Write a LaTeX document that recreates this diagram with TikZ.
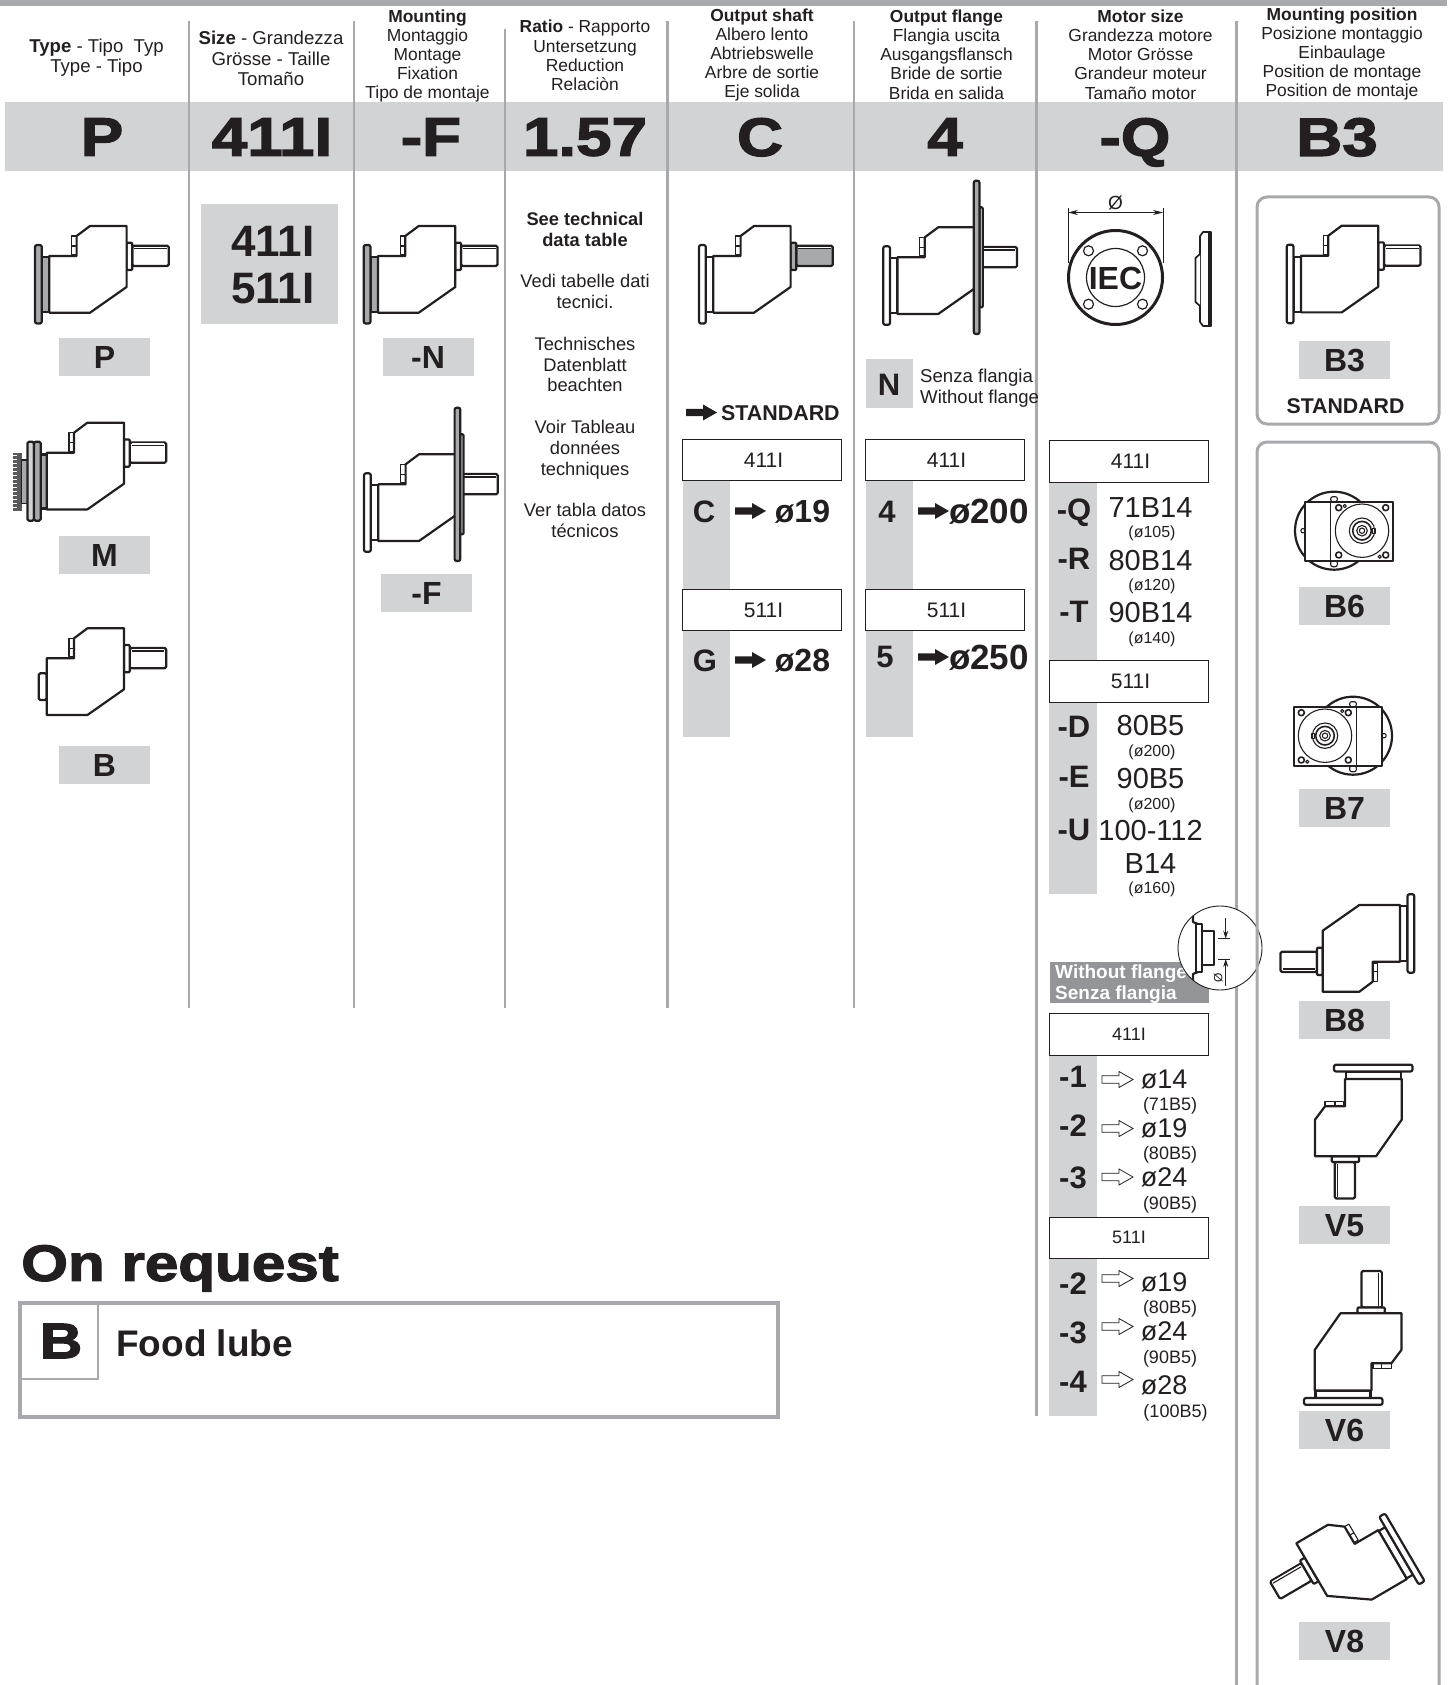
\documentclass[tikz,border=0pt]{standalone}
\usepackage{fontspec}
\setmainfont{Liberation Sans}
\newfontfamily\heavyfont[FakeBold=2.5,FakeStretch=1.18]{Liberation Sans Bold}
\usetikzlibrary{arrows.meta,positioning,calc}
\definecolor{PanelGrey}{HTML}{D1D3D4}
\definecolor{RuleGrey}{HTML}{A7A9AC}
\definecolor{TitleGrey}{HTML}{939598}
\definecolor{PlateDark}{HTML}{58595B}
\definecolor{InkBlack}{HTML}{231F20}
\newcommand{\fsz}[1]{\fontsize{#1}{#1}\selectfont}
\newcommand{\sizetext}[1]{\hspace*{3pt}\raisebox{-1.8pt}{#1}}

% Gearbox side view, origin where flange side meets the notch side
\newcommand{\gearbody}[1][white]{%
  \draw[gearline,fill=#1,rounded corners=1.5pt] (83,-10.3) rectangle (119.5,10);
  \fill[white] (85,-9.3) rectangle (117.5,-7.3);
  \draw[gearthin] (85,-7.3) -- (117.5,-7.3);
  \draw[gearline,fill=#1,rounded corners=1pt] (77.3,-13.3) rectangle (83,14);
  \draw[gearline,fill=white] (0,0) -- (27.3,0) -- (27.3,-20) -- (40.7,-30) -- (77.3,-30)
    -- (77.3,31) -- (40.7,56.7) -- (0,56.7) -- cycle;
  \draw[gearthin] (27.3,-1.5) -- (22.3,-1.5) -- (22.3,-20) -- (27.3,-20) (22.3,-10) -- (27.3,-10);
}
\newcommand{\gearflange}[1][white]{%
  \draw[gearline,fill=#1] (-7.5,1) rectangle (0,56);
  \draw[gearline,fill=#1,rounded corners=2pt] (-14.3,-11) rectangle (-7.5,67.5);
}
\newcommand{\gearplate}{%
  \draw[gearline,fill=white,rounded corners=1pt] (82,-50) rectangle (85.2,50);
  \draw[gearline,fill=RuleGrey,rounded corners=2pt] (76.3,-76.6) rectangle (82,76.7);
}
% Motor end view, origin on the output axis
\newcommand{\gearend}{%
  \draw[gearline] (-28,0) circle (39);
  \draw[gearthin,fill=white] (-59,0) circle (2.2);
  \draw[gearthin,rounded corners=2pt] (-31.3,-34) rectangle (-24.7,-29);
  \draw[gearthin,rounded corners=2pt] (-24.7,30) rectangle (-31.3,36);
  \draw[gearline,fill=white] (-57.3,-29) rectangle (31,30.3);
  \draw[gearthin] (-31.4,-29) -- (-31.4,30.3);
  \draw[gearthin] (0,0) circle (26.7);
  \draw[gearthin] (0,0) circle (12.7);
  \draw[gearline,line width=1.6pt] (0,0) circle (9.3);
  \draw[gearthin] (0,0) circle (5.3);
  \draw[gearthin] (0,0) circle (2.7);
  \draw[gearthin] (10.5,-2.5) rectangle (13,2.5);
  \draw[gearline,line width=1.6pt] (-23.3,-23) circle (3);
  \draw[gearline,line width=1.6pt] (23.7,-23) circle (3);
  \draw[gearline,line width=1.6pt] (-23.3,24.3) circle (3);
  \draw[gearline,line width=1.6pt] (23.7,24.3) circle (3);
  \draw[gearthin] (-17.3,-24.7) circle (1.6);
  \draw[gearthin] (17.7,26) circle (1.6);
}
\newcommand{\blockarrow}[2][solidarrow]{%
  \path[#1,shift={(#2)}] (0,-3.7) -- (17,-3.7) -- (17,-8) -- (31,0) -- (17,8) -- (17,3.7) -- (0,3.7) -- cycle;
}

\begin{document}
\begin{tikzpicture}[x=1pt,y=-1pt,
    gearline/.style={draw=InkBlack,line width=2.2pt,line join=round},
    gearthin/.style={draw=InkBlack,line width=1.1pt,line join=round},
    solidarrow/.style={fill=InkBlack},
    openarrow/.style={draw=InkBlack,fill=white,line width=0.8pt},
    colrule/.style={draw=RuleGrey,line width=2.6pt},
    hdr/.style={inner sep=0pt,align=center,text=InkBlack,
      font=\fontsize{17.4}{19.2}\selectfont},
    hdrbig/.style={inner sep=0pt,align=center,text=InkBlack,
      font=\fontsize{18.6}{20.2}\selectfont},
    codeband/.style={inner sep=0pt,text depth=0pt,text=InkBlack,
      font=\heavyfont\fontsize{54}{54}\selectfont},
    tagbox/.style={inner sep=0pt,text depth=0pt,text=InkBlack,fill=PanelGrey,
      minimum width=91pt,minimum height=38pt,font=\bfseries\fsz{32}},
    sizebox/.style={draw=InkBlack,line width=1pt,inner sep=0pt,fill=white,text=InkBlack,
      minimum width=158.5pt,minimum height=41pt,font=\fsz{21}},
    bigcode/.style={inner sep=0pt,text depth=0pt,text=InkBlack,font=\bfseries\fsz{31}},
    bigval/.style={inner sep=0pt,text depth=0pt,text=InkBlack,font=\bfseries\fsz{32}},
    motorval/.style={inner sep=0pt,text depth=0pt,text=InkBlack,font=\fsz{29}},
    boreval/.style={inner sep=0pt,text depth=0pt,text=InkBlack,font=\fsz{27}},
    note/.style={inner sep=0pt,text depth=0pt,text=InkBlack,font=\fsz{16}},
    boreNote/.style={inner sep=0pt,text depth=0pt,text=InkBlack,font=\fsz{18}},
    frameBox/.style={draw=RuleGrey,line width=3pt,rounded corners=10pt}
  ]
  \useasboundingbox (0,0) rectangle (1447,1685);

  % Bands
  \fill[RuleGrey] (0,0) rectangle (1447,6);
  \fill[PanelGrey] (5,102) rectangle (1443,171);

  % Column rules
  \draw[colrule] (189,21) -- (189,1008);
  \draw[colrule] (354,21) -- (354,1008);
  \draw[colrule] (505,29) -- (505,1008);
  \draw[colrule] (667.5,21) -- (667.5,1008);
  \draw[colrule] (854,21) -- (854,1008);
  \draw[colrule] (1036.5,21) -- (1036.5,1416);
  \draw[colrule] (1236.5,21) -- (1236.5,1685);

  % Column headings
  \node[hdrbig] (hdrtype) at (96.5,58) {\textbf{Type} - Tipo\ \ Typ\\Type - Tipo};
  \node[hdrbig] (hdrsize) at (271,58.5) {\textbf{Size} - Grandezza\\Grösse - Taille\\Tomaño};
  \node[hdr] (hdrmount) at (427.5,56) {\textbf{Mounting}\\Montaggio\\Montage\\Fixation\\Tipo de montaje};
  \node[hdr] (hdrratio) at (585,55.5) {\textbf{Ratio} - Rapporto\\Untersetzung\\Reduction\\Relaciòn};
  \node[hdr] (hdrshaft) at (762,55) {\textbf{Output shaft}\\Albero lento\\Abtriebswelle\\Arbre de sortie\\Eje solida};
  \node[hdr] (hdrflange) at (946.5,54.5) {\textbf{Output flange}\\Flangia uscita\\Ausgangsflansch\\Bride de sortie\\Brida en salida};
  \node[hdr] (hdrmotor) at (1140.5,54.5) {\textbf{Motor size}\\Grandezza motore\\Motor Grösse\\Grandeur moteur\\Tamaño motor};
  \node[hdr] (hdrpos) at (1342,54) {\textbf{Mounting position}\\Posizione montaggio\\Einbaulage\\Position de montage\\Position de montaje};

  % Order code
  \node[codeband] (codetype) at (102,137) {P};
  \node[codeband] (codesize) at (272,137) {411I};
  \node[codeband] (codemount) at (431,137) {-F};
  \node[codeband] (coderatio) at (585,137) {1.57};
  \node[codeband] (codeshaft) at (760,137) {C};
  \node[codeband] (codeflange) at (945,137) {4};
  \node[codeband] (codemotor) at (1135,137) {-Q};
  \node[codeband] (codepos) at (1337,137) {B3};

  % Type
  \begin{scope}[shift={(49.3,256)}]
    \gearflange[RuleGrey]
    \gearbody
  \end{scope}
  \node[tagbox] (tagp) at (104.5,357) {P};
  \begin{scope}[shift={(46.7,452.7)}]
    \fill[PlateDark] (-33.3,0.7) rectangle (-25,58);
    \draw[white,line width=5pt,dash pattern=on 1pt off 3pt] (-32,2) -- (-32,58);
    \draw[gearthin,fill=RuleGrey] (-25,7.3) rectangle (-19.3,50.7);
    \draw[gearline,fill=PanelGrey,rounded corners=1.5pt] (-19.3,-11) rectangle (-12.7,68);
    \draw[gearline,fill=RuleGrey,rounded corners=1.5pt] (-12.7,-11) rectangle (-6,68);
    \draw[gearline,fill=RuleGrey] (-6,1.7) rectangle (0,55.7);
    \gearbody
  \end{scope}
  \node[tagbox] (tagm) at (104.5,555) {M};
  \begin{scope}[shift={(46.7,658.3)}]
    \draw[gearline,fill=white,rounded corners=1.5pt] (-8,15) rectangle (0,41.7);
    \gearbody
  \end{scope}
  \node[tagbox] (tagb) at (104.5,765) {B};

  % Size
  \fill[PanelGrey] (201,204) rectangle (338,324);
  \node[inner sep=0pt,text depth=0pt,text=InkBlack,font=\bfseries\fsz{44}] (size411) at (273,241) {411I};
  \node[inner sep=0pt,text depth=0pt,text=InkBlack,font=\bfseries\fsz{44}] (size511) at (273,288) {511I};

  % Mounting
  \begin{scope}[shift={(378,256)}]
    \gearflange[RuleGrey]
    \gearbody
  \end{scope}
  \node[tagbox] (tagn) at (428,357) {-N};
  \begin{scope}[shift={(378.3,484.3)}]
    \gearflange
    \gearbody
    \gearplate
  \end{scope}
  \node[tagbox] (tagf) at (426.5,593) {-F};

  % Ratio
  \node[inner sep=0pt,align=center,text=InkBlack,font=\fontsize{18.3}{20.8}\selectfont] (rationote) at (585,375)
    {\textbf{See technical}\\\textbf{data table}\\[20.8pt]
     Vedi tabelle dati\\tecnici.\\[20.8pt]
     Technisches\\Datenblatt\\beachten\\[20.8pt]
     Voir Tableau\\données\\techniques\\[20.8pt]
     Ver tabla datos\\técnicos};

  % Output shaft
  \begin{scope}[shift={(713.3,256)}]
    \gearflange
    \gearbody[RuleGrey]
  \end{scope}
  \blockarrow{686,412.5}
  \node[inner sep=0pt,text depth=0pt,anchor=west,text=InkBlack,font=\bfseries\fsz{21.4}] (stdshaft) at (721,413) {STANDARD};
  \fill[PanelGrey] (682.5,481) rectangle (730,737);
  \node[sizebox] (shaft411) at (762,460) {\sizetext{411I}};
  \node[sizebox] (shaft511) at (762,610) {\sizetext{511I}};
  \node[bigcode] (shaftc) at (704,512) {C};
  \blockarrow{735,511}
  \node[bigval] (shaft19) at (802.5,511) {ø19};
  \node[bigcode] (shaftg) at (705,661) {G};
  \blockarrow{735,660}
  \node[bigval] (shaft28) at (802.5,660) {ø28};

  % Output flange
  \begin{scope}[shift={(897.5,257.3)}]
    \gearflange
    \gearbody
    \gearplate
  \end{scope}
  \fill[PanelGrey] (865.5,359) rectangle (913,408);
  \node[bigcode] (flangen) at (889,385) {N};
  \node[inner sep=0pt,anchor=west,align=left,text=InkBlack,font=\fontsize{18.6}{20.5}\selectfont] (flangenote) at (920,388) {Senza flangia\\Without flange};
  \fill[PanelGrey] (865.5,481) rectangle (913,737);
  \node[sizebox] (flange411) at (945,460) {\sizetext{411I}};
  \node[sizebox] (flange511) at (945,610) {\sizetext{511I}};
  \node[bigcode] (flange4) at (887,512) {4};
  \blockarrow{918,511}
  \node[bigval,font=\bfseries\fsz{35}] (flange200) at (989,511) {ø200};
  \node[bigcode] (flange5) at (885,657) {5};
  \blockarrow{918,657}
  \node[bigval,font=\bfseries\fsz{35}] (flange250) at (989,657) {ø250};

  % IEC flange
  \draw[InkBlack,line width=3pt] (1115.5,277.5) circle (47);
  \draw[InkBlack,line width=1.2pt] (1115.5,277.5) circle (29);
  \draw[InkBlack,line width=1.2pt] (1088.5,250.8) circle (5);
  \draw[InkBlack,line width=1.2pt] (1142.5,250.8) circle (5);
  \draw[InkBlack,line width=1.2pt] (1088.5,304.2) circle (5);
  \draw[InkBlack,line width=1.2pt] (1142.5,304.2) circle (5);
  \node[inner sep=0pt,text depth=0pt,text=InkBlack,font=\bfseries\fsz{32}] (ieclabel) at (1115.5,278) {IEC};
  \coordinate (iecl) at (1068,212.5);
  \coordinate (iecr) at (1163,212.5);
  \draw[InkBlack,line width=0.8pt] (1068,208) -- (1068,263) (1163,208) -- (1163,263);
  \draw[InkBlack,line width=0.8pt,{Stealth[length=10pt,width=5pt]}-{Stealth[length=10pt,width=5pt]}] (iecl) -- (iecr);
  \node[inner sep=0pt,text=InkBlack,font=\fsz{19}] (iecdia) at (1115.5,203) {Ø};
  \draw[InkBlack,line width=1.7pt,fill=white,line join=round] (1203,232) -- (1211,232) -- (1211,326) -- (1203,326) -- (1200,322) -- (1200,236) -- cycle;
  \draw[InkBlack,line width=1.7pt,fill=white,line join=round] (1200,254) -- (1195.5,258) -- (1195.5,302) -- (1200,306);
  \draw[InkBlack,line width=3pt] (1209.5,232) -- (1209.5,326);

  % Motor size
  \fill[PanelGrey] (1049,483) rectangle (1097,894);
  \node[sizebox,minimum width=159.5pt,minimum height=42pt] (motor411) at (1129,461.5) {\sizetext{411I}};
  \node[sizebox,minimum width=159.5pt,minimum height=42pt] (motor511) at (1129,681) {\sizetext{511I}};
  \node[bigcode] (motorq) at (1074,510) {-Q};
  \node[motorval] (motor71) at (1150.5,508) {71B14};
  \node[note] (motor105) at (1152,532) {(ø105)};
  \node[bigcode] (motorr) at (1074,559) {-R};
  \node[motorval] (motor80) at (1150.5,560) {80B14};
  \node[note] (motor120) at (1152,585) {(ø120)};
  \node[bigcode] (motort) at (1074,612) {-T};
  \node[motorval] (motor90) at (1150.5,612) {90B14};
  \node[note] (motor140) at (1152,638) {(ø140)};
  \node[bigcode] (motord) at (1074,727) {-D};
  \node[motorval] (motorb80) at (1150.5,725) {80B5};
  \node[note] (motorb200) at (1152,751) {(ø200)};
  \node[bigcode] (motore) at (1074,777) {-E};
  \node[motorval] (motorb90) at (1150.5,778) {90B5};
  \node[note] (motorc200) at (1152,804) {(ø200)};
  \node[bigcode] (motoru) at (1074,830) {-U};
  \node[motorval] (motor100) at (1150.5,830) {100-112};
  \node[motorval] (motorb14) at (1150.5,864) {B14};
  \node[note] (motor160) at (1152,888) {(ø160)};

  % Without flange
  \fill[TitleGrey] (1049.5,961.5) rectangle (1208.5,1003);
  \node[inner sep=0pt,anchor=west,align=left,text=white,font=\bfseries\fontsize{19}{21}\selectfont] (noflange) at (1055,984) {Without flange\\Senza flangia};
  \begin{scope}[shift={(1220,948)}]
    \begin{scope}
      \clip (0,0) circle (42);
      \fill[white] (0,0) circle (42);
      \draw[gearline] (-27,-40) -- (-27,-26) -- (-22,-24);
      \draw[gearline] (-27,40) -- (-27,26) -- (-22,24);
      \draw[gearline] (-24.3,-24) rectangle (-18.3,24);
      \draw[gearline] (-18.3,-16.7) rectangle (-6,17.3);
      \draw[gearthin,line width=0.8pt] (-2,-9.3) -- (10,-9.3) (-2,11) -- (10,11);
      \draw[gearthin,line width=0.8pt,-{Stealth[length=8pt,width=5pt]}] (5.7,-30) -- (5.7,-9.3);
      \draw[gearthin,line width=0.8pt,-{Stealth[length=8pt,width=5pt]}] (5.7,38) -- (5.7,11);
      \node[inner sep=0pt,rotate=90,text=InkBlack,font=\fsz{12}] (detaildia) at (-1.7,30) {Ø};
    \end{scope}
    \draw[InkBlack,line width=0.9pt] (0,0) circle (42);
  \end{scope}

  % Bore sizes
  \fill[PanelGrey] (1049,1055) rectangle (1097,1416);
  \node[sizebox,minimum width=159.5pt,minimum height=42pt,font=\fsz{18}] (bore411) at (1129,1034) {411I};
  \node[sizebox,minimum width=159.5pt,minimum height=41pt,font=\fsz{18}] (bore511) at (1129,1237.5) {511I};
  \node[bigcode] (borea) at (1073,1077) {-1};
  \blockarrow[openarrow]{1102,1079.5}
  \node[boreval] (bore14) at (1164,1079) {ø14};
  \node[boreNote] (note71) at (1170,1104) {(71B5)};
  \node[bigcode] (boreb) at (1073,1126) {-2};
  \blockarrow[openarrow]{1102,1128.5}
  \node[boreval] (bore19) at (1164,1128) {ø19};
  \node[boreNote] (note80) at (1170,1153) {(80B5)};
  \node[bigcode] (borec) at (1073,1178) {-3};
  \blockarrow[openarrow]{1102,1177}
  \node[boreval] (bore24) at (1164,1177) {ø24};
  \node[boreNote] (note90) at (1170,1203) {(90B5)};
  \node[bigcode] (bored) at (1073,1284) {-2};
  \blockarrow[openarrow]{1102,1278.5}
  \node[boreval] (boreb19) at (1164,1282) {ø19};
  \node[boreNote] (noteb80) at (1170,1307) {(80B5)};
  \node[bigcode] (boree) at (1073,1333) {-3};
  \blockarrow[openarrow]{1102,1326.5}
  \node[boreval] (boreb24) at (1164,1331) {ø24};
  \node[boreNote] (noteb90) at (1170,1356.5) {(90B5)};
  \node[bigcode] (boref) at (1073,1382) {-4};
  \blockarrow[openarrow]{1102,1379.5}
  \node[boreval] (boreb28) at (1164,1385) {ø28};
  \node[boreNote] (note100) at (1175.5,1410.5) {(100B5)};

  % Mounting position frames
  \draw[frameBox] (1257,197) rectangle (1439,424);
  \draw[frameBox] (1257,442) rectangle (1439,1720);

  \begin{scope}[shift={(1301,255.7)}]
    \gearflange
    \gearbody
  \end{scope}
  \node[tagbox] (tagb3) at (1344.5,360) {B3};
  \node[inner sep=0pt,text depth=0pt,text=InkBlack,font=\bfseries\fsz{21.3}] (stdpos) at (1345.5,406) {STANDARD};

  \begin{scope}[shift={(1362,530.7)}]
    \gearend
  \end{scope}
  \node[tagbox] (tagb6) at (1344.5,606) {B6};
  \begin{scope}[shift={(1325,735.7)},x={(-1pt,0pt)}]
    \gearend
  \end{scope}
  \node[tagbox] (tagb7) at (1344.5,808) {B7};

  \begin{scope}[shift={(1400,961.7)},x={(-1pt,0pt)},y={(0pt,1pt)}]
    \gearflange
    \gearbody
  \end{scope}
  \node[tagbox] (tagb8) at (1344.5,1020) {B8};

  \begin{scope}[shift={(1345,1079)},x={(0pt,-1pt)},y={(1pt,0pt)}]
    \gearflange
    \gearbody
  \end{scope}
  \node[tagbox] (tagv5) at (1344.5,1225) {V5};

  \begin{scope}[shift={(1371.5,1390.5)},x={(0pt,1pt)},y={(-1pt,0pt)}]
    \gearflange
    \gearbody
  \end{scope}
  \node[tagbox] (tagv6) at (1344.5,1430) {V6};

  \begin{scope}[shift={(1378.2,1530.1)},cm={-0.863,-0.505,-0.505,0.863,(0,0)}]
    \gearflange
    \gearbody
  \end{scope}
  \node[tagbox] (tagv8) at (1344.5,1641) {V8};

  % On request
  \node[inner sep=0pt,text depth=0pt,anchor=west,text=InkBlack,font=\heavyfont\fsz{51}] (reqtitle) at (21,1263) {On request};
  \draw[RuleGrey,line width=3.5pt] (20,1303) rectangle (778,1417);
  \draw[RuleGrey,line width=1.2pt] (20,1303) rectangle (98,1379);
  \node[inner sep=0pt,text depth=0pt,text=InkBlack,font=\heavyfont\fsz{50}] (reqcode) at (61,1341) {B};
  \node[inner sep=0pt,text depth=0pt,anchor=west,text=InkBlack,font=\bfseries\fsz{37}] (reqfood) at (116,1343) {Food lube};

\end{tikzpicture}
\end{document}
